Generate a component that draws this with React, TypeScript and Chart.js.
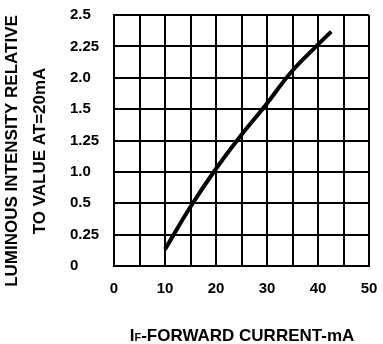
import React, { useEffect, useRef } from "react";
import { Chart, registerables } from "chart.js";

Chart.register(...registerables);

// Forward current (mA)
const forwardCurrent = [10, 15, 20, 24.7, 29.6, 34.8, 39.7, 42.6];
// Relative luminous intensity, in grid-row units of the printed axis
const relIntensity = [0.53, 1.89, 3.1, 4.12, 5.1, 6.19, 7.01, 7.47];
// Printed y tick labels (bottom to top), one per grid row
const yTickLabels = ["0", "0.25", "0.5", "1.0", "1.25", "1.5", "2.0", "2.25", "2.5"];
const xTickLabels = ["0", "10", "20", "30", "40", "50"];
const yTitleLines = ["LUMINOUS INTENSITY RELATIVE", "TO VALUE AT=20mA"];
const xTitleParts = ["I", "F", "-FORWARD CURRENT-mA"];

const FONT = "'Liberation Sans', Arial, Helvetica, sans-serif";

const titlesPlugin = {
  id: "titles",
  afterDraw(chart: any) {
    const ctx = chart.ctx;
    ctx.save();
    ctx.fillStyle = "#000";
    // Y title (rotated)
    ctx.font = `bold 17px ${FONT}`;
    ctx.textAlign = "center";
    ctx.textBaseline = "middle";
    const cy = 151;
    const xs = [12, 40];
    yTitleLines.forEach((line, i) => {
      ctx.save();
      ctx.translate(xs[i], cy);
      ctx.rotate(-Math.PI / 2);
      ctx.fillText(line, 0, 0);
      ctx.restore();
    });
    // X title with subscript F
    const big = `bold 17px ${FONT}`;
    const small = `bold 11px ${FONT}`;
    ctx.textAlign = "left";
    ctx.textBaseline = "alphabetic";
    ctx.font = big;
    const w0 = ctx.measureText(xTitleParts[0]).width;
    const w2 = ctx.measureText(xTitleParts[2]).width;
    ctx.font = small;
    const w1 = ctx.measureText(xTitleParts[1]).width;
    const total = w0 + w1 + w2;
    const cx = 242;
    let x = cx - total / 2;
    const base = 341;
    ctx.font = big;
    ctx.fillText(xTitleParts[0], x, base);
    x += w0;
    ctx.font = small;
    ctx.fillText(xTitleParts[1], x, base);
    x += w1;
    ctx.font = big;
    ctx.fillText(xTitleParts[2], x, base);
    ctx.restore();
  },
};

export default function App() {
  const ref = useRef<HTMLCanvasElement | null>(null);
  useEffect(() => {
    if (!ref.current) return;
    const chart = new Chart(ref.current, {
      type: "line",
      data: {
        datasets: [
          {
            data: forwardCurrent.map((x, i) => ({ x, y: relIntensity[i] })),
            borderColor: "#000",
            borderWidth: 4,
            pointRadius: 0,
            tension: 0.4,
            fill: false,
          },
        ],
      },
      options: {
        animation: false,
        responsive: false,
        layout: { padding: { left: 70, right: 14, top: 15, bottom: 0 } },
        plugins: { legend: { display: false }, tooltip: { enabled: false } },
        scales: {
          x: {
            type: "linear",
            min: 0,
            max: 50,
            afterFit: (s: any) => {
              s.height = 78;
              s.paddingLeft = 0;
              s.paddingRight = 0;
            },
            ticks: {
              stepSize: 5,
              autoSkip: false,
              maxRotation: 0,
              padding: 14,
              color: "#000",
              font: { family: FONT, size: 15, weight: "bold" },
              callback: (v: any) => {
                const s = String(v);
                return Number(v) % 10 === 0 && xTickLabels.includes(s) ? s : "";
              },
            },
            grid: { color: "#000", lineWidth: 2, drawTicks: false },
            border: { color: "#000", width: 2 },
          },
          y: {
            type: "linear",
            min: 0,
            max: yTickLabels.length - 1,
            afterFit: (s: any) => {
              s.width = 44;
              s.paddingTop = 0;
              s.paddingBottom = 0;
            },
            ticks: {
              stepSize: 1,
              autoSkip: false,
              crossAlign: "far",
              color: "#000",
              font: { family: FONT, size: 15, weight: "bold" },
              callback: (v: any) => yTickLabels[Math.round(Number(v))] ?? "",
            },
            grid: { color: "#000", lineWidth: 2, drawTicks: false },
            border: { color: "#000", width: 2 },
          },
        },
      },
      plugins: [titlesPlugin],
    });
    return () => chart.destroy();
  }, []);
  return (
    <div style={{ position: "absolute", left: 0, top: 0, width: 383, height: 344, background: "#fff" }}>
      <canvas ref={ref} width={383} height={344} />
    </div>
  );
}
